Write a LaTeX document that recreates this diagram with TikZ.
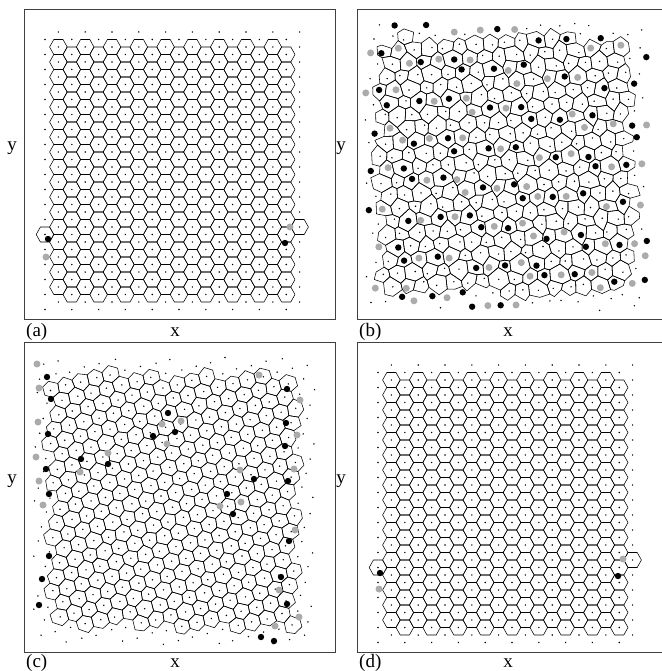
\documentclass[tikz,border=0pt]{standalone}
\usepackage{fontspec}
\setmainfont{Liberation Serif}

\tikzset{
  panelframe/.style={draw=black!75, line width=0.8pt},
  cell/.style={draw=black, line width=0.55pt, line join=round},
  site/.style={fill=black},
  darkdefect/.style={fill=black},
  greydefect/.style={fill=black!33},
  tag/.style={inner sep=0pt, font=\fontsize{19}{21}\selectfont},
}

% lattice constants (pt)
\def\latdx{13.4}
\def\latdy{15}
\def\latw{8.8}
\def\latu{4.6}
\def\lath{7.5}

% lattice point (u,v) of the current panel -> picture coords (\mx,\my)
\newcommand\mapsite[2]{%
  \pgfmathsetmacro\du{#1-\puc}%
  \pgfmathsetmacro\dv{#2-\pvc}%
  \pgfmathsetmacro\mx{\pox+\pcx+\du*cos(\pphi)-\dv*sin(\pphi)}%
  \pgfmathsetmacro\my{\poy+\pcy+\du*sin(\pphi)+\dv*cos(\pphi)}%
  \ifdim\pamp pt>0pt
    \pgfmathsetmacro\mx{\mx+\pamp/3*(sin(10.3*\du+6.1*\dv)+sin(11.7*\dv-7.9*\du)+sin(14.9*\du-9.3*\dv+40))}%
    \pgfmathsetmacro\my{\my+\pamp/3*(sin(8.7*\du-12.3*\dv+70)+sin(12.1*\du+8.9*\dv+20)+sin(15.1*\dv-5.3*\du+110))}%
  \fi
}

% voronoi cell round lattice point (u,v)
\newcommand\latcell[2]{%
  \mapsite{#1+\latw}{#2}\let\ptax\mx\let\ptay\my
  \mapsite{#1+\latu}{#2+\lath}\let\ptbx\mx\let\ptby\my
  \mapsite{#1-\latu}{#2+\lath}\let\ptcx\mx\let\ptcy\my
  \mapsite{#1-\latw}{#2}\let\ptdx\mx\let\ptdy\my
  \mapsite{#1-\latu}{#2-\lath}\let\ptex\mx\let\ptey\my
  \mapsite{#1+\latu}{#2-\lath}\let\ptfx\mx\let\ptfy\my
  \draw[cell] (\ptax,\ptay) -- (\ptbx,\ptby) -- (\ptcx,\ptcy) -- (\ptdx,\ptdy)
    -- (\ptex,\ptey) -- (\ptfx,\ptfy) -- cycle;
}

% whole lattice of one panel: imax, jmax, defect mode (1 = marked sites)
\newcommand\latpanel[3]{%
  \foreach \i in {0,...,#1}{
    \foreach \j in {0,...,#2}{
      \pgfmathsetmacro\su{\i*\latdx}
      \pgfmathsetmacro\sv{\j*\latdy-mod(\i,2)*\lath}
      \mapsite{\su}{\sv}
      \let\sx\mx\let\sy\my
      \pgfmathsetmacro\lx{\sx-\pox}
      \pgfmathsetmacro\ly{\sy-\poy}
      \pgfmathtruncatemacro\incell{(\lx>\pxa)*(\lx<\pxb)*(\ly>\pya)*(\ly<\pyb)}
      \pgfmathtruncatemacro\inring{(\lx>\qxa)*(\lx<\qxb)*(\ly>\qya)*(\ly<\qyb)}
      \ifnum\incell=1 \latcell{\su}{\sv}\fi
      \ifnum\inring=1
        \def\mark{0}
        \ifnum#3=1
          \pgfmathsetmacro\hsh{0.5*(sin(127.1*\i+311.7*\j)+sin(269.5*\i+183.3*\j))}
          \ifdim\hsh pt>0.55pt \def\mark{1}\fi
          \ifdim\hsh pt<-0.55pt \def\mark{2}\fi
        \fi
        \ifcase\mark
          \fill[site] (\sx,\sy) circle (0.8);
        \or
          \fill[darkdefect] (\sx,\sy) circle (3.2);
        \or
          \fill[greydefect] (\sx,\sy) circle (3.5);
        \fi
      \fi
    }
  }
}

\begin{document}
\begin{tikzpicture}[x=1pt, y=-1pt]
\useasboundingbox (0,0) rectangle (661,671);

% frames
\draw[panelframe] (24,9) rectangle (335,319);
\draw[panelframe] (357,9) rectangle (668,319);
\draw[panelframe] (24,342) rectangle (335,652);
\draw[panelframe] (357,342) rectangle (668,652);

% (a) triangular lattice
\def\pox{24}\def\poy{9}\def\pcx{21}\def\pcy{30.5}
\def\puc{0}\def\pvc{0}\def\pphi{0}\def\pamp{0}
\def\pxa{28}\def\pxb{269}\def\pya{34}\def\pyb{289}
\def\qxa{10}\def\qxb{290}\def\qya{12}\def\qyb{310}
\latpanel{19}{18}{0}
\latcell{0}{195}
\latcell{254.6}{187.5}
\fill[darkdefect] (48,239) circle (3.2);
\fill[darkdefect] (285,243) circle (3.2);
\fill[greydefect] (46,257) circle (3.5);
\fill[greydefect] (290,227) circle (3.5);

% (b) disordered
\def\pox{357}\def\poy{9}\def\pcx{150}\def\pcy{158}
\def\puc{174.2}\def\pvc{180}\def\pphi{25}\def\pamp{3.4}
\def\pxa{22}\def\pxb{272}\def\pya{30}\def\pyb{282}
\def\qxa{8}\def\qxb{290}\def\qya{14}\def\qyb{302}
\latpanel{26}{24}{1}

% (c) tilted lattice
\def\pox{24}\def\poy{342}\def\pcx{150}\def\pcy{158}
\def\puc{174.2}\def\pvc{180}\def\pphi{15}\def\pamp{1.2}
\def\pxa{26}\def\pxb{273}\def\pya{33}\def\pyb{285}
\def\qxa{8}\def\qxb{292}\def\qya{15}\def\qyb{303}
\latpanel{26}{24}{0}
\foreach \dpx/\dpy in {47/377, 51/399, 48/434, 81/459, 108/464, 46/469,
    49/494, 168/413, 153/436, 175/432, 287/389, 286/423, 285/446, 254/479,
    288/481, 227/494, 233/514, 289/541, 49/556, 42/579, 39/605, 281/577,
    287/604, 261/637, 274/641}
  \fill[darkdefect] (\dpx,\dpy) circle (3.2);
\foreach \dpx/\dpy in {37/364, 39/388, 38/422, 36/457, 39/481, 43/505,
    80/472, 108/453, 162/424, 181/421, 167/444, 259/375, 300/400, 297/435,
    294/469, 240/470, 241/502, 220/506, 295/530, 279/590, 299/617, 275/626}
  \fill[greydefect] (\dpx,\dpy) circle (3.5);

% (d) triangular lattice again
\def\pox{357}\def\poy{342}\def\pcx{21}\def\pcy{30.5}
\def\puc{0}\def\pvc{0}\def\pphi{0}\def\pamp{0}
\def\pxa{28}\def\pxb{269}\def\pya{34}\def\pyb{289}
\def\qxa{10}\def\qxb{290}\def\qya{12}\def\qyb{310}
\latpanel{19}{18}{0}
\latcell{0}{195}
\latcell{254.6}{187.5}
\fill[darkdefect] (380,573) circle (3.2);
\fill[darkdefect] (618,576) circle (3.2);
\fill[greydefect] (379,589) circle (3.5);
\fill[greydefect] (623,559) circle (3.5);

% labels
\node[tag, anchor=base west] (taga) at (26,336) {(a)};
\node[tag, anchor=base] (xa) at (175,336) {x};
\node[tag, anchor=base] (ya) at (12,150) {y};
\node[tag, anchor=base west] (tagb) at (359,336) {(b)};
\node[tag, anchor=base] (xb) at (508,336) {x};
\node[tag, anchor=base] (yb) at (341,150) {y};
\node[tag, anchor=base west] (tagc) at (26,667) {(c)};
\node[tag, anchor=base] (xc) at (175,667) {x};
\node[tag, anchor=base] (yc) at (12,483) {y};
\node[tag, anchor=base west] (tagd) at (359,667) {(d)};
\node[tag, anchor=base] (xd) at (508,667) {x};
\node[tag, anchor=base] (yd) at (341,483) {y};
\end{tikzpicture}
\end{document}
